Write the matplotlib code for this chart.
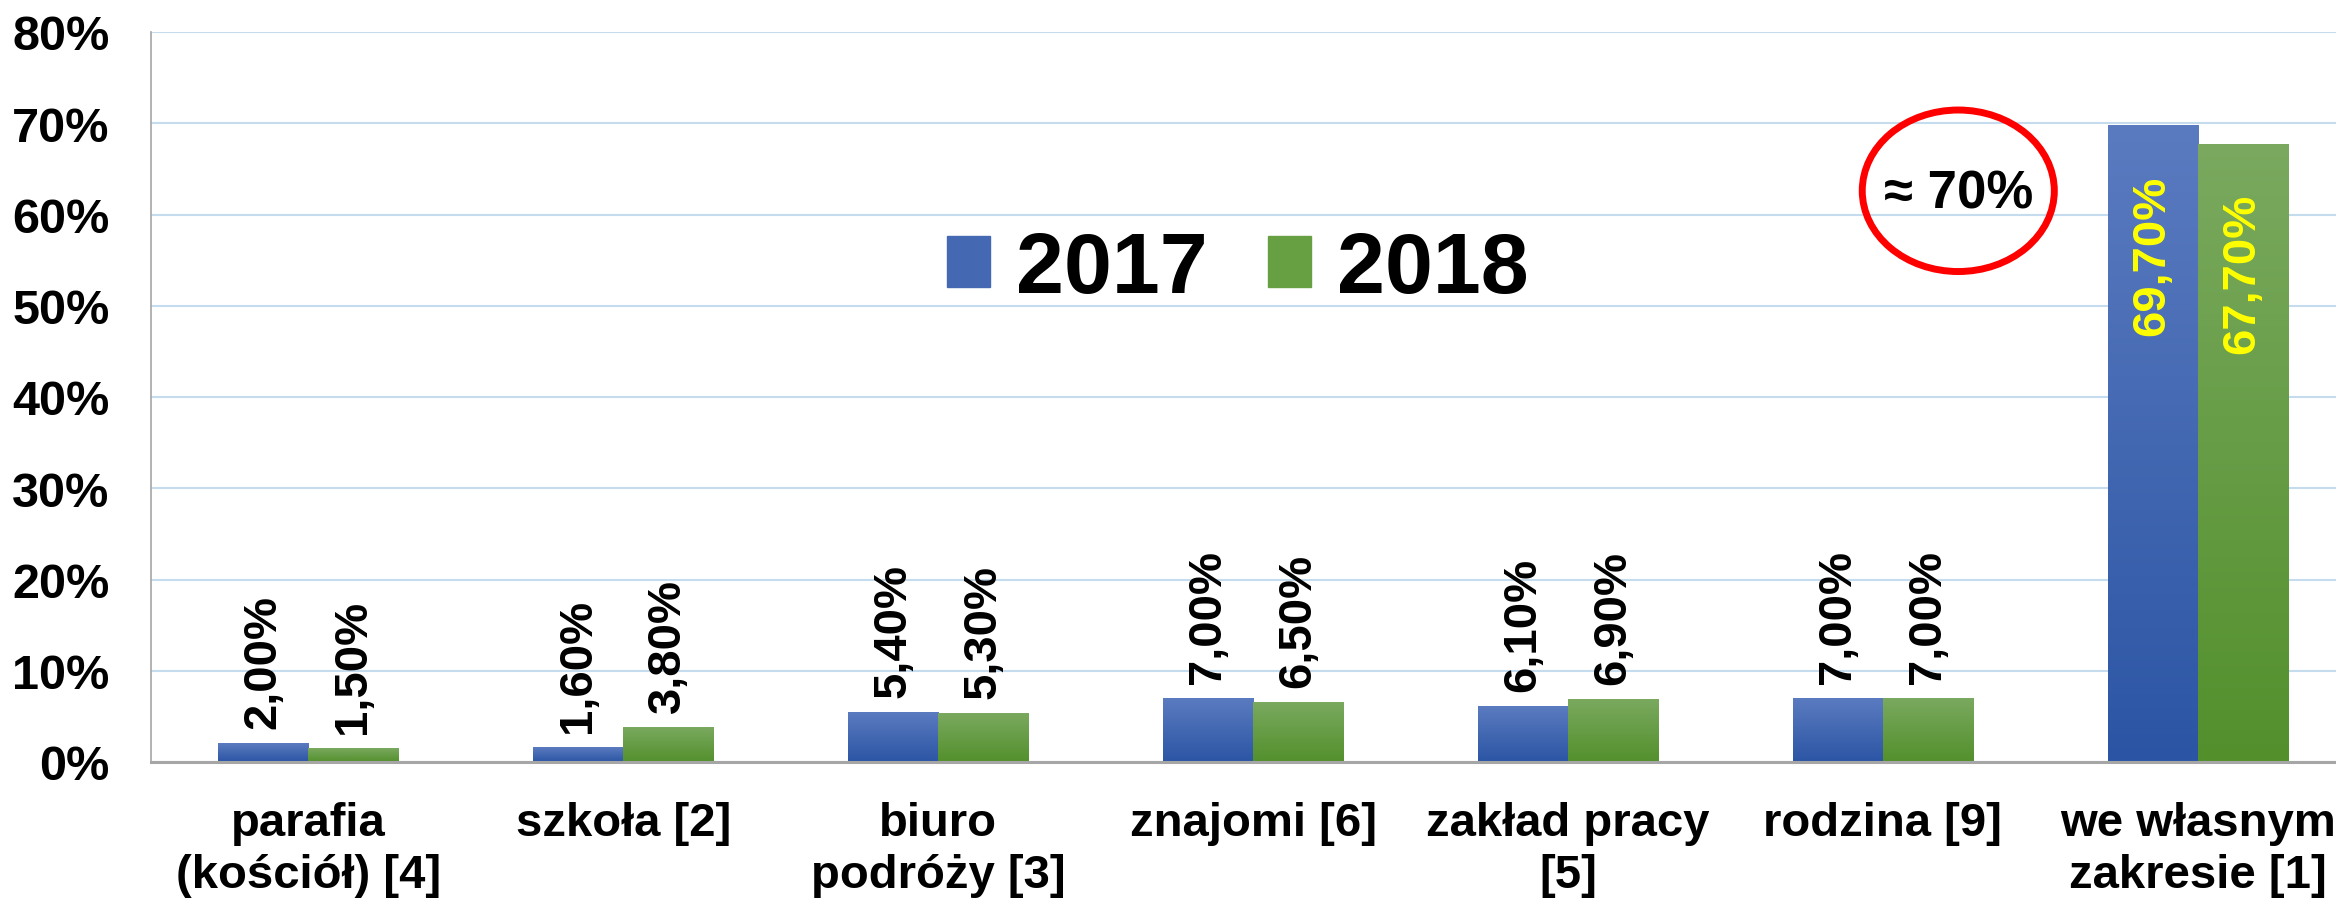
import numpy as np
import matplotlib
matplotlib.use("Agg")
import matplotlib.pyplot as plt
from matplotlib.colors import LinearSegmentedColormap
from matplotlib.patches import Ellipse, Patch

plt.rcParams["font.family"] = ["Liberation Sans", "DejaVu Sans"]
plt.rcParams["font.weight"] = "bold"

# data
categories = ["parafia\n(kościół) [4]", "szkoła [2]", "biuro\npodróży [3]",
              "znajomi [6]", "zakład pracy\n[5]", "rodzina [9]",
              "we własnym\nzakresie [1]"]
vals_2017 = [2.0, 1.6, 5.4, 7.0, 6.1, 7.0, 69.7]
vals_2018 = [1.5, 3.8, 5.3, 6.5, 6.9, 7.0, 67.7]
series = ["2017", "2018"]
yticks = [0, 10, 20, 30, 40, 50, 60, 70, 80]

BLUE = ("#5b7bc0", "#2b55a4")   # top, bottom
GREEN = ("#7aa95f", "#53902c")


def fmt(v):
    return f"{v:.2f}".replace(".", ",") + "%"


fig = plt.figure(figsize=(23.36, 9.03), dpi=100)
ax = fig.add_axes([151 / 2336, 140 / 903, 2204 / 2336, 730 / 903])

x = np.arange(len(categories))
w = 0.286
grad = np.linspace(0, 1, 256).reshape(-1, 1)

for vals, off, (top, bot) in [(vals_2017, -w / 2, BLUE), (vals_2018, w / 2, GREEN)]:
    bars = ax.bar(x + off, vals, width=w, color=top, zorder=2)
    cmap = LinearSegmentedColormap.from_list("g", [bot, top])
    # vertical gradient fill like the original
    for b in bars:
        ax.imshow(grad, cmap=cmap, origin="lower", aspect="auto", zorder=2.1,
                  extent=[b.get_x(), b.get_x() + b.get_width(), 0, b.get_height()])
    for xi, v in zip(x + off, vals):
        if v > 50:
            ax.annotate(fmt(v), (xi, v), xytext=(0, -35), textcoords="offset points",
                        rotation=90, ha="center", va="top", fontsize=34,
                        fontweight="bold", color="#ffff00", zorder=4)
        else:
            ax.annotate(fmt(v), (xi, v), xytext=(0, 11), textcoords="offset points",
                        rotation=90, ha="center", va="bottom", fontsize=34,
                        fontweight="bold", color="black", zorder=4)

ax.set_xlim(-0.5, len(categories) - 0.5)
ax.set_ylim(0, 80)
ax.set_yticks(yticks)
ax.set_yticklabels([f"{t}%" for t in yticks], fontsize=35, fontweight="bold")
ax.set_xticks(x)
ax.set_xticklabels(categories, fontsize=34, fontweight="bold", linespacing=1.25)
ax.tick_params(axis="y", length=0, pad=30)
ax.tick_params(axis="x", length=0, pad=28)
ax.grid(axis="y", color="#c5dcef", lw=1.5, zorder=0)
ax.set_axisbelow(True)
for s in ["top", "right"]:
    ax.spines[s].set_visible(False)
ax.spines["left"].set_color("#a6a6a6")
ax.spines["left"].set_linewidth(1.2)
ax.spines["bottom"].set_color("#a6a6a6")
ax.spines["bottom"].set_linewidth(2.2)
ax.spines["bottom"].set_zorder(3)

# callout
ax.add_patch(Ellipse((5.24, 62.6), 0.61, 17.7, fill=False, edgecolor="#ff0000",
                     lw=5, zorder=5))
ax.text(5.24, 60.8, "≈ 70%", ha="center", va="baseline", fontsize=38,
        fontweight="bold", zorder=5)

handles = [Patch(color="#4468b2"), Patch(color="#66a043")]
ax.legend(handles, series, loc="center", bbox_to_anchor=(0.493, 0.674), ncol=2,
          frameon=False, prop={"size": 62, "weight": "bold"},
          handlelength=0.5, handleheight=0.55, handletextpad=0.3,
          columnspacing=0.7)

fig.savefig("out.png", dpi=100)
